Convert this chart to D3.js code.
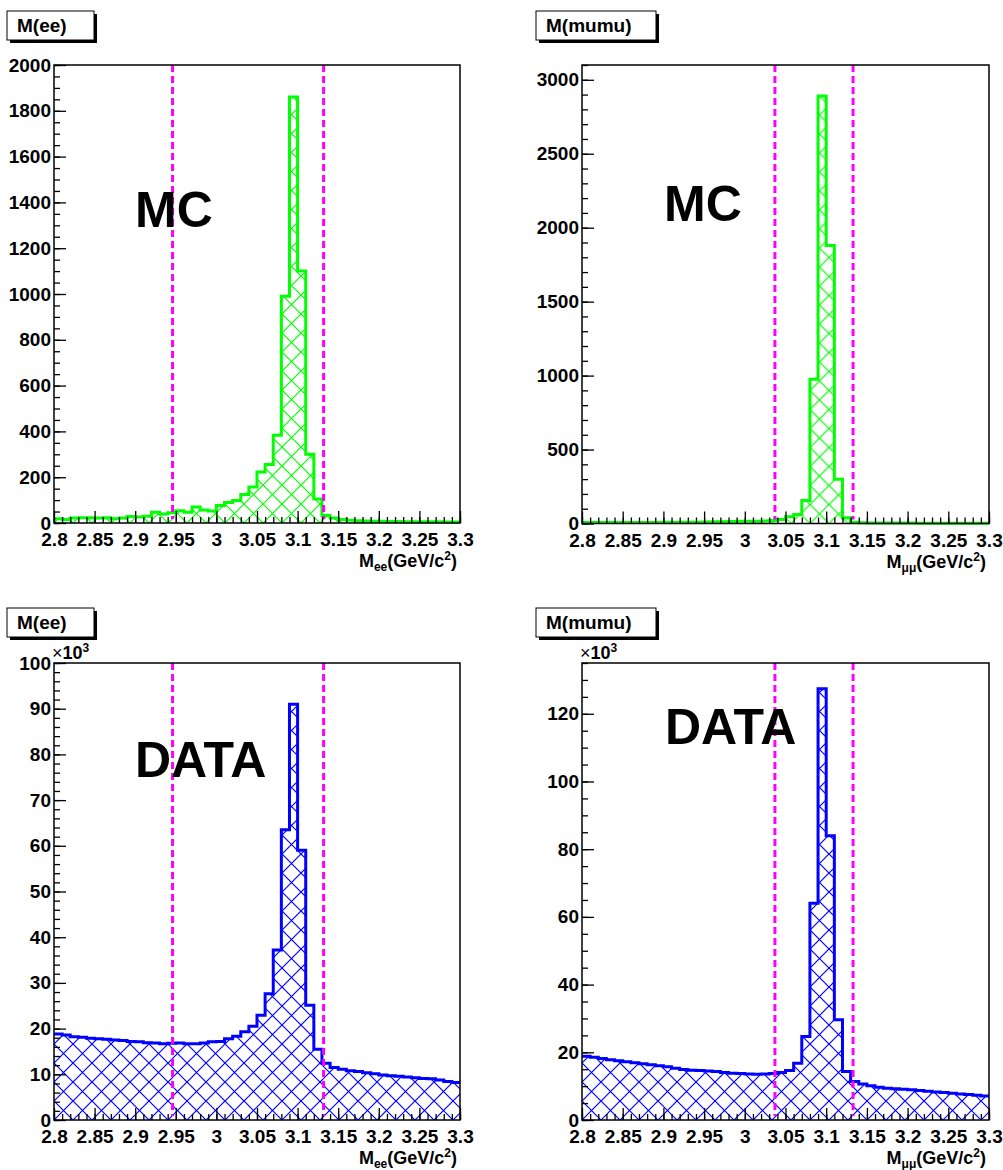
<!DOCTYPE html>
<html>
<head>
<meta charset="utf-8">
<script src="https://cdn.jsdelivr.net/npm/d3@7"></script>
<style>
  body { margin: 0; background: #fff; }
  svg { display: block; }
  svg text { font-family: "Liberation Sans", Arial, Helvetica, sans-serif; font-weight: bold; fill: #000; }
</style>
</head>
<body>
<svg id="chart"></svg>
<script>
const width = 1003;
const height = 1170;

// histogram binning: 50 bins of 0.01 GeV/c^2 from 2.8 to 3.3
const xRange = [2.8, 3.3];
const binWidth = 0.01;
const xTicks = [2.8, 2.85, 2.9, 2.95, 3, 3.05, 3.1, 3.15, 3.2, 3.25, 3.3];

// counts per bin
const mcEE = [19, 15, 22, 23, 23, 22, 23, 19, 22, 28, 26, 29, 47, 39, 45, 54, 47, 70, 57, 52,
  76, 89, 98, 125, 157, 223, 255, 383, 990, 1860, 1100, 300, 105, 33, 22, 15, 12, 10, 9, 8,
  8, 7, 7, 6, 6, 5, 5, 5, 4, 4];
const mcMuMu = [7, 6, 6, 7, 6, 6, 7, 6, 7, 7, 8, 7, 8, 9, 9, 10, 11, 12, 13, 15,
  15, 16, 17, 20, 27, 45, 61, 155, 975, 2890, 1880, 300, 39, 9, 5, 4, 4, 3, 3, 3,
  3, 2, 2, 2, 2, 2, 2, 2, 2, 2];
// data counts in thousands
const dataEE = [18.8, 18.6, 18.2, 18.1, 17.9, 17.8, 17.65, 17.5, 17.4, 17.2, 17.1, 16.9, 16.85, 16.7, 16.8, 16.85, 16.7, 16.7, 16.85, 17.1,
  17.2, 17.8, 18.3, 19.3, 20.5, 22.9, 27.6, 37.2, 63.5, 91.0, 59.0, 25.1, 15.5, 12.4, 11.5, 11.1, 10.8, 10.6, 10.35, 10.1,
  9.85, 9.7, 9.55, 9.4, 9.25, 9.1, 9.0, 8.75, 8.4, 8.2];
const dataMuMu = [18.8, 18.5, 18.2, 17.8, 17.5, 17.2, 16.9, 16.6, 16.3, 16.0, 15.7, 15.3, 14.9, 14.7, 14.6, 14.5, 14.3, 14.0, 13.8, 13.7,
  13.6, 13.5, 13.6, 13.7, 14.0, 14.6, 16.8, 24.7, 64.0, 127.4, 84.0, 29.6, 14.3, 11.4, 10.6, 10.1, 9.7, 9.4, 9.2, 9.1,
  8.9, 8.7, 8.5, 8.3, 8.1, 7.9, 7.7, 7.5, 7.3, 7.1];

// mass window cuts
const eeWindow = [2.946, 3.132];
const mumuWindow = [3.037, 3.133];

// y axis ticks
const mcEETicks = [0, 200, 400, 600, 800, 1000, 1200, 1400, 1600, 1800, 2000];
const mcMuMuTicks = [0, 500, 1000, 1500, 2000, 2500, 3000];
const dataEETicks = [0, 10, 20, 30, 40, 50, 60, 70, 80, 90, 100];
const dataMuMuTicks = [0, 20, 40, 60, 80, 100, 120];

const panels = [
  { title: "M(ee)", label: "MC", values: mcEE, win: eeWindow, yMax: 2000, yTicks: mcEETicks, minor: 50,
    color: "#00ff00", sub: "ee", box: [7, 11, 87], frame: [54, 460, 65, 523], tag: [135, 227], exp: false },
  { title: "M(mumu)", label: "MC", values: mcMuMu, win: mumuWindow, yMax: 3100, yTicks: mcMuMuTicks, minor: 100,
    color: "#00ff00", sub: "\u03bc\u03bc", box: [536, 11, 120], frame: [582, 989, 65, 523.5], tag: [664, 221], exp: false },
  { title: "M(ee)", label: "DATA", values: dataEE, win: eeWindow, yMax: 100, yTicks: dataEETicks, minor: 2,
    color: "#0000ff", sub: "ee", box: [7, 608, 87], frame: [54, 460, 663, 1120], tag: [135, 777], exp: true },
  { title: "M(mumu)", label: "DATA", values: dataMuMu, win: mumuWindow, yMax: 135, yTicks: dataMuMuTicks, minor: 5,
    color: "#0000ff", sub: "\u03bc\u03bc", box: [536, 608, 120], frame: [582, 989, 663, 1120], tag: [665, 744], exp: true }
];

const svg = d3.select("#chart").attr("width", width).attr("height", height);
const defs = svg.append("defs");

const styleAxis = a => {
  a.select(".domain").remove();
  a.attr("font-family", null).attr("font-size", null);
  a.selectAll("text").style("font-size", "19px").style("font-weight", "bold");
  a.selectAll("line").attr("stroke-width", 1.3);
};

panels.forEach((p, i) => {
  const [x0, x1, y0, y1] = p.frame;
  const x = d3.scaleLinear().domain(xRange).range([x0, x1]);
  const y = d3.scaleLinear().domain([0, p.yMax]).range([y1, y0]);
  const g = svg.append("g");

  // cross hatch pattern anchored at the frame corner
  const s = 19;
  const pat = defs.append("pattern")
    .attr("id", "hatch" + i)
    .attr("patternUnits", "userSpaceOnUse")
    .attr("x", x0).attr("y", y1)
    .attr("width", s).attr("height", s);
  pat.append("path")
    .attr("d", `M0,0L${s},${s}M0,${s}L${s},0M-1,1L1,-1M${s - 1},${s + 1}L${s + 1},${s - 1}M-1,${s - 1}L1,${s + 1}M${s - 1},-1L${s + 1},1`)
    .attr("stroke", p.color).attr("stroke-width", 1.2);

  // histogram
  const bins = p.values.map((v, k) => ({ lo: xRange[0] + k * binWidth, hi: xRange[0] + (k + 1) * binWidth, v }));
  let line = "";
  bins.forEach((b, k) => {
    line += (k === 0 ? "M" : "L") + x(b.lo) + "," + y(b.v) + "L" + x(b.hi) + "," + y(b.v);
  });
  const area = line + "L" + x1 + "," + y1 + "L" + x0 + "," + y1 + "Z";

  g.append("path").attr("d", area).attr("fill", `url(#hatch${i})`);
  g.append("path").attr("d", line).attr("fill", "none")
    .attr("stroke", p.color).attr("stroke-width", 3).attr("stroke-linejoin", "miter");

  // cut lines
  g.selectAll(".cut").data(p.win).join("line")
    .attr("x1", d => x(d)).attr("x2", d => x(d))
    .attr("y1", y0).attr("y2", y1 - 4)
    .attr("stroke", "#ff00ff").attr("stroke-width", 3).attr("stroke-dasharray", "7,4");

  // frame
  g.append("rect").attr("x", x0).attr("y", y0).attr("width", x1 - x0).attr("height", y1 - y0)
    .attr("fill", "none").attr("stroke", "#000").attr("stroke-width", 1.5);

  // y axis: minor ticks then labelled major ticks
  const yMinor = d3.range(0, p.yMax + 1e-9, p.minor);
  g.append("g").attr("transform", `translate(${x0},0)`)
    .call(d3.axisLeft(y).tickValues(yMinor).tickSizeInner(-6).tickSizeOuter(0).tickFormat(""))
    .call(styleAxis);
  g.append("g").attr("transform", `translate(${x0},0)`)
    .call(d3.axisLeft(y).tickValues(p.yTicks).tickSizeInner(-12).tickSizeOuter(0).tickPadding(3)
      .tickFormat(d => String(d)))
    .call(styleAxis);

  // x axis
  const xMinor = d3.range(0, 51).map(k => xRange[0] + k * binWidth);
  g.append("g").attr("transform", `translate(0,${y1})`)
    .call(d3.axisBottom(x).tickValues(xMinor).tickSizeInner(-6).tickSizeOuter(0).tickFormat(""))
    .call(styleAxis);
  g.append("g").attr("transform", `translate(0,${y1})`)
    .call(d3.axisBottom(x).tickValues(xTicks).tickSizeInner(-12).tickSizeOuter(0).tickPadding(10)
      .tickFormat(d => String(+d.toFixed(2))))
    .call(styleAxis);

  // axis title
  const t = g.append("text").attr("x", x1 - 3).attr("y", y1 + 44)
    .attr("text-anchor", "end").style("font-size", "18px");
  t.append("tspan").text("M");
  t.append("tspan").style("font-size", "12px").attr("dy", 4).text(p.sub);
  t.append("tspan").attr("dy", -4).text("(GeV/c");
  t.append("tspan").style("font-size", "12px").attr("dy", -7).text("2");
  t.append("tspan").attr("dy", 7).text(")");

  // exponent label
  if (p.exp) {
    const e = g.append("text").attr("x", x0 - 2).attr("y", y0 - 4).style("font-size", "18px");
    e.append("tspan").style("font-weight", "normal").text("\u00d7");
    e.append("tspan").text("10");
    e.append("tspan").style("font-size", "12px").attr("dy", -7).text("3");
  }

  // MC / DATA tag
  g.append("text").attr("x", p.tag[0]).attr("y", p.tag[1]).style("font-size", "50px").text(p.label);

  // title box with shadow
  const [bx, by, bw] = p.box;
  g.append("rect").attr("x", bx + 3).attr("y", by + 3).attr("width", bw).attr("height", 29).attr("fill", "#000");
  g.append("rect").attr("x", bx).attr("y", by).attr("width", bw).attr("height", 29)
    .attr("fill", "#fff").attr("stroke", "#000").attr("stroke-width", 1);
  g.append("text").attr("x", bx + 10).attr("y", by + 21).style("font-size", "19px").text(p.title);
});
</script>
</body>
</html>
